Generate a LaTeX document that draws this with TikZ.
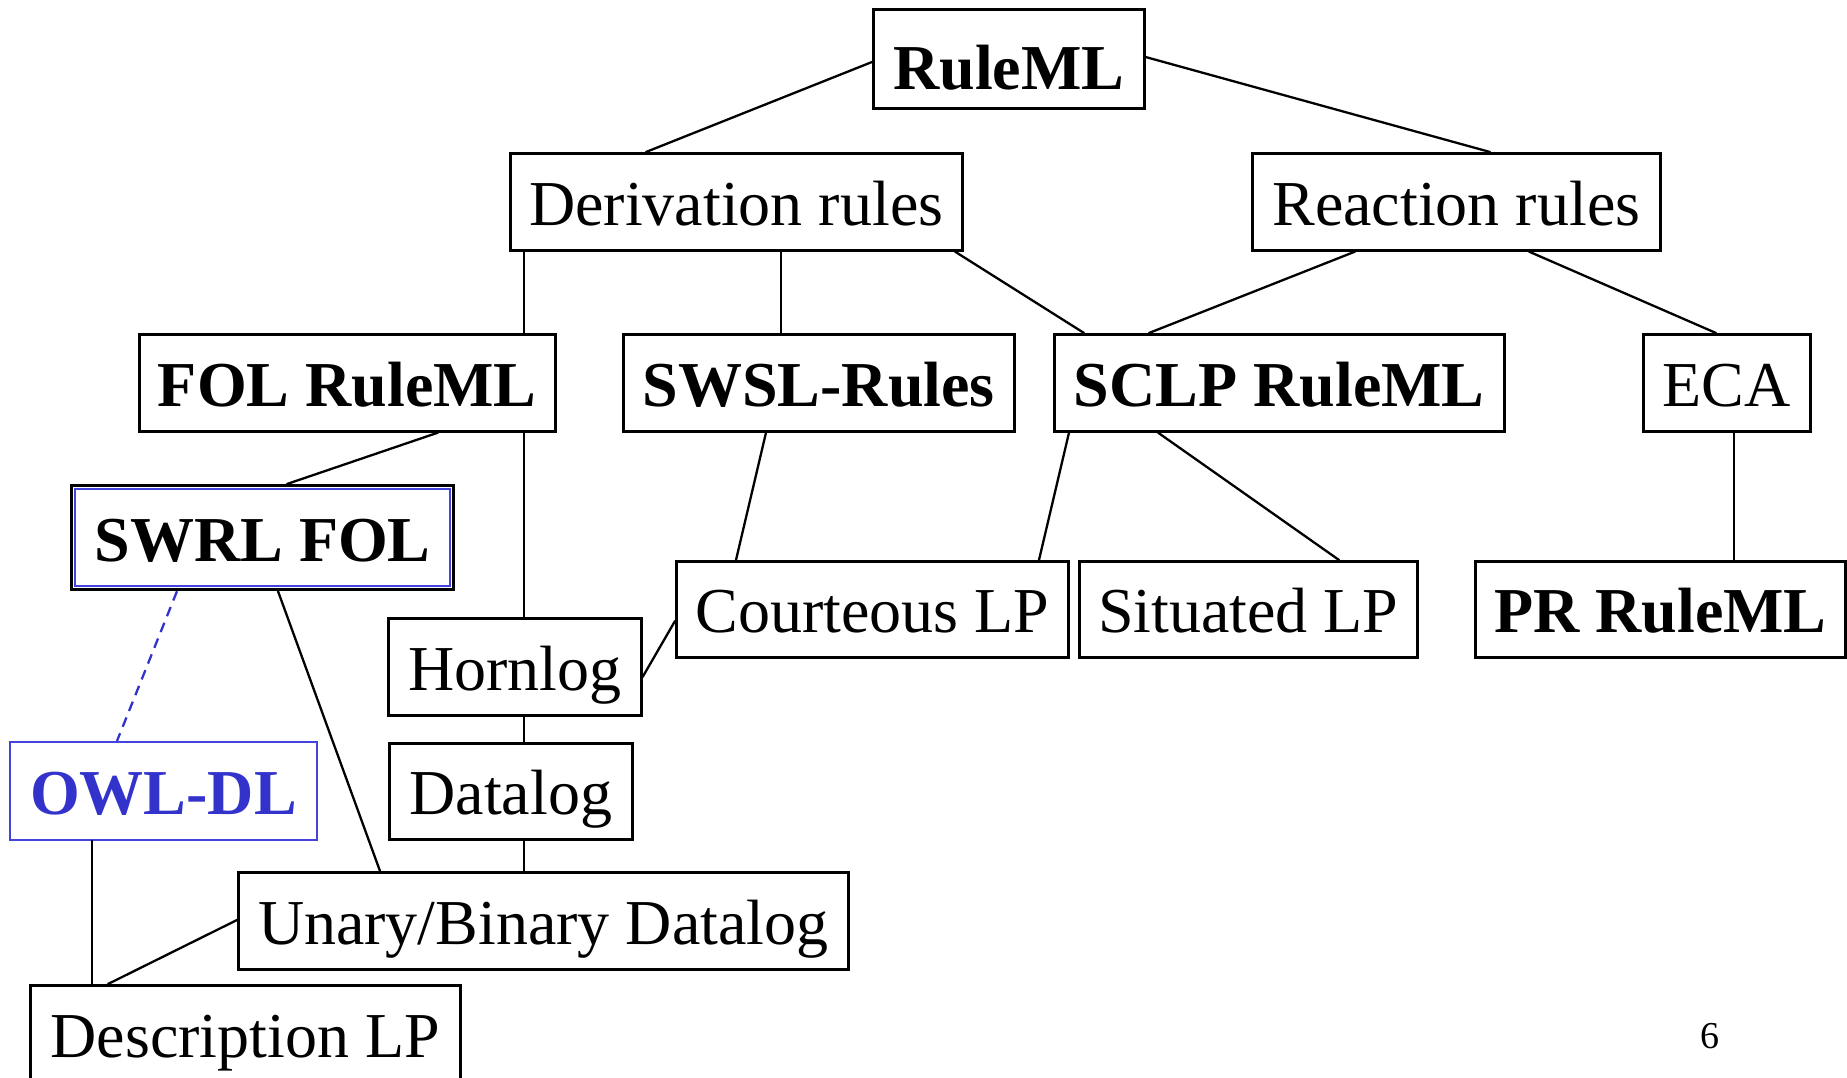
\documentclass[tikz,border=0pt]{standalone}
\usepackage{fontspec}
\setmainfont{Liberation Serif}
\usetikzlibrary{calc}
\definecolor{owlblue}{HTML}{3333CC}
\definecolor{owlline}{HTML}{4444DD}
\begin{document}
\begin{tikzpicture}[x=1pt,y=-1pt,
  box/.style={draw=black, line width=2.6pt, inner sep=0pt, minimum height=97pt,
    text height=60pt, text depth=13pt, font=\fontsize{64}{70}\selectfont, anchor=north west},
  bbox/.style={box, font=\fontsize{64}{70}\selectfont\bfseries},
  link/.style={line width=2.3pt, line cap=round}]
\useasboundingbox (0,0) rectangle (1847,1077);
\clip (0,0) rectangle (1847,1077);
\fill[white] (0,0) rectangle (1847,1077);

% nodes
\node[bbox, minimum width=271pt, minimum height=99pt, text height=74pt] (ruleml) at (872,8) {RuleML};
\node[box, minimum width=452pt] (deriv) at (509,152) {Derivation rules};
\node[box, minimum width=408pt] (react) at (1251,152) {Reaction rules};
\node[bbox, minimum width=416pt] (fol) at (138,333) {FOL RuleML};
\node[bbox, minimum width=391pt] (swsl) at (622,333) {SWSL-Rules};
\node[bbox, minimum width=450pt] (sclp) at (1053,333) {SCLP RuleML};
\node[box, minimum width=167pt] (eca) at (1642,333) {ECA};
\node[bbox, line width=3.2pt, minimum width=382pt, minimum height=104pt] (swrl) at (70,484) {SWRL FOL};
\node[box, minimum width=392pt, minimum height=96pt] (court) at (675,560) {Courteous LP};
\node[box, minimum width=338pt, minimum height=96pt] (sit) at (1078,560) {Situated LP};
\node[bbox, minimum width=370pt, minimum height=96pt] (pr) at (1474,560) {PR RuleML};
\node[box, minimum width=253pt] (horn) at (387,617) {Hornlog};
\node[box, minimum width=243pt, minimum height=96pt] (datalog) at (388,742) {Datalog};
\node[bbox, draw=owlline, line width=1.8pt, text=owlblue, minimum width=307pt, minimum height=98pt] (owl) at (9,741) {OWL-DL};
\node[box, minimum width=610pt] (unary) at (237,871) {Unary/Binary Datalog};
\node[box, minimum width=430pt] (desc) at (29,984) {Description LP};
\node[anchor=base, font=\fontsize{38}{40}\selectfont] (pg) at (1710,1048) {6};

% inner blue frame of SWRL FOL
\draw[owlline, line width=2pt] ($(swrl.north west)+(4.8,4.8)$) rectangle ($(swrl.south east)+(-4.8,-4.8)$);

% connectors
\draw[link] ($(ruleml.north west)+(0,54)$) -- ($(deriv.north west)+(137,0)$);
\draw[link] ($(ruleml.north east)+(0,49)$) -- ($(react.north west)+(239,0)$);
\draw[link] ($(deriv.south west)+(15,0)$) -- ($(fol.north west)+(386,0)$);
\draw[link] ($(deriv.south west)+(272,0)$) -- ($(swsl.north west)+(159,0)$);
\draw[link] ($(deriv.south west)+(446,0)$) -- ($(sclp.north west)+(31,0)$);
\draw[link] ($(react.south west)+(104,0)$) -- ($(sclp.north west)+(96,0)$);
\draw[link] ($(react.south west)+(278,0)$) -- ($(eca.north west)+(74,0)$);
\draw[link] ($(fol.south west)+(300,0)$) -- ($(swrl.north west)+(217,0)$);
\draw[link] ($(fol.south west)+(386,0)$) -- ($(horn.north west)+(137,0)$);
\draw[link] ($(swsl.south west)+(144,0)$) -- ($(court.north west)+(61,0)$);
\draw[link] ($(sclp.south west)+(16,0)$) -- ($(court.north west)+(364,0)$);
\draw[link] ($(sclp.south west)+(105,0)$) -- ($(sit.north west)+(261,0)$);
\draw[link] ($(eca.south west)+(92,0)$) -- ($(pr.north west)+(260,0)$);
\draw[link] ($(court.north west)+(0,61)$) -- ($(horn.north east)+(0,60)$);
\draw[link] ($(horn.south west)+(137,0)$) -- ($(datalog.north west)+(136,0)$);
\draw[link] ($(datalog.south west)+(136,0)$) -- ($(unary.north west)+(287,0)$);
\draw[link] ($(swrl.south west)+(208,0)$) -- ($(unary.north west)+(143,0)$);
\draw[link, owlblue, dash pattern=on 10pt off 7pt, line cap=butt] ($(swrl.south west)+(107,0)$) -- ($(owl.north west)+(108,0)$);
\draw[link] ($(owl.south west)+(83,0)$) -- ($(desc.north west)+(63,0)$);
\draw[link] ($(unary.north west)+(0,49)$) -- ($(desc.north west)+(79,0)$);
\end{tikzpicture}
\end{document}
